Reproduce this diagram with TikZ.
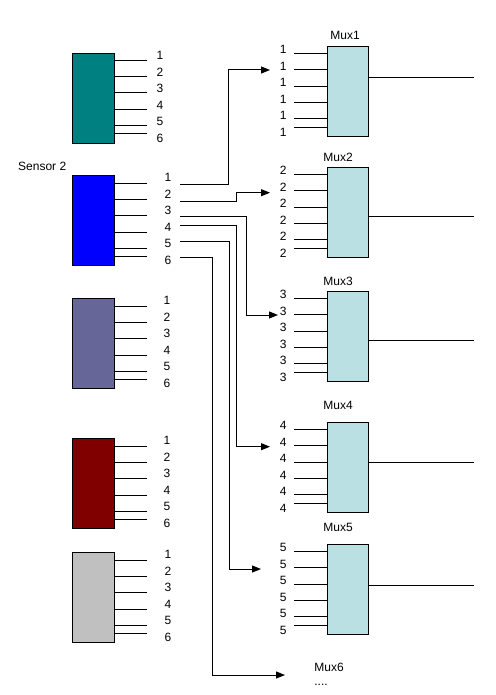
\documentclass[tikz,border=0pt]{standalone}
\usepackage{fontspec}
\setmainfont{Liberation Sans}
\usetikzlibrary{arrows.meta}
\definecolor{senteal}{HTML}{008080}
\definecolor{senblue}{HTML}{0000FF}
\definecolor{senslate}{HTML}{666699}
\definecolor{senmaroon}{HTML}{800000}
\definecolor{sensilver}{HTML}{C0C0C0}
\definecolor{muxfill}{HTML}{BBE0E3}
\tikzset{
  sensorbox/.style={draw, line width=1pt, minimum width=42pt, minimum height=90pt, anchor=north west, inner sep=0pt},
  muxbox/.style={draw, fill=muxfill, line width=1pt, minimum width=41pt, minimum height=90pt, anchor=north west, inner sep=0pt},
  pin/.style={line width=1pt},
  wire/.style={line width=1pt, -{Triangle[length=9pt,width=7pt]}},
  lbl/.style={inner sep=0pt, font=\fontsize{12}{14}\selectfont}
}
\begin{document}
\begin{tikzpicture}[x=1pt, y=-1pt]
    \useasboundingbox (0,0) rectangle (495,695);
    \foreach \s/\col/\ty/\lx in {1/senteal/53/160, 2/senblue/175/168, 3/senslate/298/167, 4/senmaroon/438/167, 5/sensilver/552/168} {
        \node[sensorbox, fill=\col] (sen\s) at (72,\ty) {};
        \foreach \i/\dy in {1/8,2/24,3/40,4/57,5/73,6/81} {
            \coordinate (sen\s-p\i) at (147,\ty+\dy);
            \draw[pin] (sen\s-p\i -| sen\s.east) -- (sen\s-p\i);
            \node[lbl] (sen\s-n\i) at (\lx,\ty+2.5+16.6*\i-16.6) {\i};
        }
    }
    \node[lbl, anchor=west] (senname) at (18,166.5) {Sensor 2};
    \foreach \k/\ty/\tx/\tty/\oy in {1/46/345/35/31.5, 2/167/338/157/49.5, 3/291/338/281/49.5, 4/422/338/405/40.5, 5/544/338/527/41} {
        \node[muxbox] (mux\k) at (327,\ty) {};
        \node[lbl] (mux\k-t) at (\tx,\tty) {Mux\k};
        \foreach \i/\dy in {1/7.6,2/23.6,3/40.3,4/56.3,5/72.6,6/81.3} {
            \coordinate (mux\k-p\i) at (294,\ty+\dy);
            \draw[pin] (mux\k-p\i) -- (mux\k-p\i -| mux\k.west);
            \node[lbl] (mux\k-n\i) at (283.3,\ty+3.6+16.5*\i-16.5) {\k};
        }
        \coordinate (mux\k-out) at (474,\ty+\oy);
        \draw[pin] (mux\k-out -| mux\k.east) -- (mux\k-out);
    }
    \node[lbl] (mux6-t) at (329,667) {Mux6};
    \node[lbl] (mux6-d) at (321,685) {....};
    \foreach \i/\wy/\bx/\tx/\tty in {1/184.3/228.5/270/70, 2/201.3/236.5/270/192.7, 3/216/246/278/315, 4/225.3/236.5/270/446.7, 5/241.3/229/261/569, 6/257.3/212/285/675} {
        \coordinate (w\i) at (180,\wy);
        \coordinate (tip\i) at (\tx,\tty);
        \draw[wire] (w\i) -- ++(\bx-180,0) |- (tip\i);
    }
\end{tikzpicture}
\end{document}
